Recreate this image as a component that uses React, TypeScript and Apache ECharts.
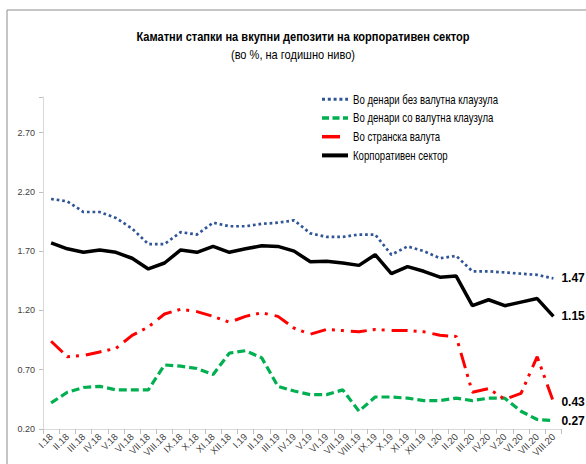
import React, { useEffect, useRef } from "react";
import * as echarts from "echarts";

const categories = [
  "I.18", "II.18", "III.18", "IV.18", "V.18", "VI.18", "VII.18", "VIII.18", "IX.18", "X.18", "XI.18", "XII.18",
  "I.19", "II.19", "III.19", "IV.19", "V.19", "VI.19", "VII.19", "VIII.19", "IX.19", "X.19", "XI.19", "XII.19",
  "I.20", "II.20", "III.20", "IV.20", "V.20", "VI.20", "VII.20", "VIII.20",
];

const denariBez = [
  2.14, 2.12, 2.03, 2.03, 1.98, 1.89, 1.76, 1.76, 1.86, 1.84, 1.94, 1.91,
  1.91, 1.93, 1.94, 1.96, 1.85, 1.82, 1.82, 1.84, 1.84, 1.67, 1.74, 1.70,
  1.64, 1.66, 1.53, 1.53, 1.52, 1.51, 1.50, 1.47,
];

const denariSo = [
  0.42, 0.51, 0.55, 0.56, 0.53, 0.53, 0.53, 0.74, 0.73, 0.71, 0.66, 0.84,
  0.86, 0.80, 0.56, 0.52, 0.49, 0.49, 0.53, 0.35, 0.47, 0.47, 0.46, 0.44,
  0.44, 0.46, 0.44, 0.46, 0.46, 0.35, 0.28, 0.27,
];

const stranska = [
  0.94, 0.81, 0.82, 0.85, 0.88, 0.99, 1.06, 1.17, 1.21, 1.19, 1.15, 1.10,
  1.15, 1.18, 1.15, 1.05, 1.00, 1.04, 1.03, 1.02, 1.04, 1.03, 1.03, 1.02,
  0.99, 0.98, 0.51, 0.54, 0.45, 0.50, 0.81, 0.43,
];

const korporativen = [
  1.77, 1.72, 1.69, 1.71, 1.69, 1.64, 1.55, 1.60, 1.71, 1.69, 1.74, 1.69,
  1.72, 1.745, 1.74, 1.70, 1.61, 1.615, 1.60, 1.58, 1.67, 1.51, 1.57, 1.53,
  1.48, 1.49, 1.24, 1.29, 1.24, 1.27, 1.30, 1.15,
];

const seriesNames = [
  "Во денари без валутна клаузула",
  "Во денари со валутна клаузула",
  "Во странска валута",
  "Корпоративен сектор",
];

const titleText = "Каматни стапки на вкупни депозити на корпоративен сектор";
const subtitleText = "(во %, на годишно ниво)";

const FONT = "'Liberation Sans', Arial, sans-serif";

const colors = ["#2f5597", "#00b050", "#ff0000", "#000000"];
const lineStyles: any[] = [
  { color: colors[0], width: 2.7, type: [2.7, 2.9] },
  { color: colors[1], width: 3.2, type: [8, 4] },
  { color: colors[2], width: 3, type: [16, 6, 3, 6, 3, 7] },
  { color: colors[3], width: 3.5, type: "solid" },
];
const legendLineStyles: any[] = [
  { stroke: colors[0], lineWidth: 3, lineDash: [3, 2.8] },
  { stroke: colors[1], lineWidth: 3.5, lineDash: [7, 3.5] },
  { stroke: colors[2], lineWidth: 3.5 },
  { stroke: colors[3], lineWidth: 4 },
];
const legendLineLength = [26, 26, 18, 26];

export default function App() {
  const ref = useRef<HTMLDivElement>(null);

  useEffect(() => {
    if (!ref.current) return;
    const chart = echarts.init(ref.current, undefined, { renderer: "svg" });

    const legendGraphics: any[] = [];
    seriesNames.forEach((name, i) => {
      const y = 99.3 + i * 18.7;
      legendGraphics.push({
        type: "line",
        silent: true,
        shape: { x1: 322, y1: y, x2: 322 + legendLineLength[i], y2: y },
        style: legendLineStyles[i],
      });
      legendGraphics.push({
        type: "text",
        silent: true,
        x: 353,
        y: y,
        scaleX: 0.8,
        style: {
          x: 0,
          y: 0,
          text: name,
          textAlign: "left",
          textVerticalAlign: "middle",
          font: `12px ${FONT}`,
          fill: "#000",
        },
      });
    });

    const option = {
      animation: false,
      backgroundColor: "#ffffff",
      graphic: [
        {
          type: "rect",
          silent: true,
          shape: { x: 7, y: 10, width: 620, height: 520 },
          style: { fill: "none", stroke: "#8c8c8c", lineWidth: 1 },
        },
        {
          type: "text",
          silent: true,
          x: 303,
          y: 37,
          scaleX: 0.82,
          style: {
            x: 0,
            y: 0,
            text: titleText,
            textAlign: "center",
            textVerticalAlign: "middle",
            font: `bold 13.5px ${FONT}`,
            fill: "#000",
          },
        },
        {
          type: "text",
          silent: true,
          x: 293,
          y: 55,
          scaleX: 0.85,
          style: {
            x: 0,
            y: 0,
            text: subtitleText,
            textAlign: "center",
            textVerticalAlign: "middle",
            font: `13px ${FONT}`,
            fill: "#000",
          },
        },
        ...legendGraphics,
      ],
      grid: { left: 43, right: 24.5, top: 97, bottom: 35, containLabel: false },
      xAxis: {
        type: "category",
        data: categories,
        boundaryGap: true,
        axisLine: { lineStyle: { color: "#d9d9d9", width: 1 } },
        axisTick: { show: true, lineStyle: { color: "#bfbfbf" }, length: 5 },
        axisLabel: {
          rotate: 45,
          interval: 0,
          fontSize: 9.5,
          fontFamily: FONT,
          color: "#404040",
          margin: 6,
        },
      },
      yAxis: {
        type: "value",
        min: 0.2,
        max: 3.0,
        interval: 0.5,
        splitLine: { show: false },
        axisLine: { show: true, lineStyle: { color: "#d9d9d9", width: 1 } },
        axisTick: { show: true, lineStyle: { color: "#bfbfbf" }, length: 4 },
        axisLabel: {
          fontSize: 9,
          fontFamily: FONT,
          color: "#404040",
          margin: 8,
          formatter: (v: number) => (v > 2.95 ? "" : v.toFixed(2)),
        },
      },
      series: [denariBez, denariSo, stranska, korporativen].map((values, i) => ({
        name: seriesNames[i],
        type: "line",
        data: values,
        symbol: "none",
        lineStyle: lineStyles[i],
        itemStyle: { color: colors[i] },
        z: i === 3 ? 4 : 3,
        endLabel: {
          show: true,
          distance: 8,
          formatter: (p: any) => Number(p.value).toFixed(2),
          color: "#000",
          fontWeight: "bold",
          fontSize: 12,
          fontFamily: FONT,
        },
      })),
    };
    chart.setOption(option as any);
    return () => chart.dispose();
  }, []);

  return (
    <div
      ref={ref}
      style={{ position: "fixed", left: 0, top: 0, width: 586, height: 464, background: "#fff" }}
    />
  );
}
